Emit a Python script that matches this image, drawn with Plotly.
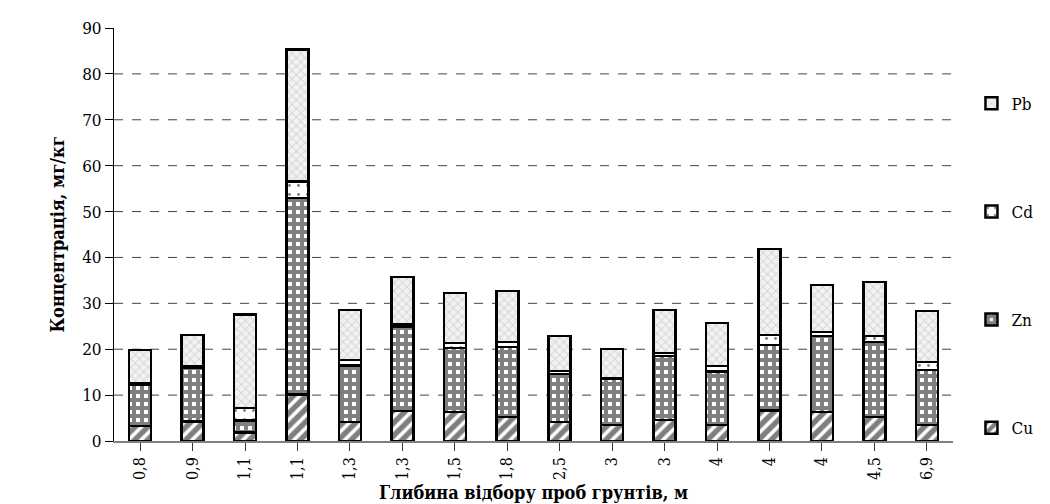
import plotly.graph_objects as go

depths = ["0,8", "0,9", "1,1", "1,1", "1,3", "1,3", "1,5", "1,8", "2,5", "3", "3", "4", "4", "4", "4,5", "6,9"]
cu = [3.3, 4.3, 1.9, 10.1, 4.1, 6.5, 6.3, 5.2, 4.1, 3.5, 4.6, 3.5, 6.7, 6.3, 5.2, 3.5]
zn = [8.9, 11.7, 2.6, 42.9, 12.3, 18.5, 14.0, 15.3, 10.5, 10.0, 13.9, 11.7, 14.2, 16.6, 16.4, 12.0]
cd = [0.4, 0.3, 2.7, 3.6, 1.2, 0.5, 1.1, 1.1, 0.7, 0.2, 0.7, 1.1, 2.2, 0.8, 1.3, 1.7]
pb = [7.2, 6.8, 20.4, 28.7, 11.0, 10.2, 10.8, 11.1, 7.6, 6.3, 9.3, 9.4, 18.7, 10.3, 11.7, 11.1]
y_ticks = [0, 10, 20, 30, 40, 50, 60, 70, 80, 90]
grid_values = [10, 20, 30, 40, 50, 60, 70, 80]

x_idx = list(range(len(depths)))
FONT = "DejaVu Serif Condensed, DejaVu Serif"

styles = {
    "Cu": dict(shape="/", fgcolor="black", bgcolor="white", size=9, solidity=0.6),
    "Zn": dict(shape="+", fgcolor="black", bgcolor="white", size=8, solidity=0.75),
    "Cd": dict(shape=".", fgcolor="black", bgcolor="white", size=9, solidity=0.08),
    "Pb": dict(shape="x", fgcolor="#b8b8b8", bgcolor="#f2f2f2", size=6, solidity=0.3),
}
ranks = {"Pb": 1, "Cd": 2, "Zn": 3, "Cu": 4}

fig = go.Figure()
for name, vals in [("Cu", cu), ("Zn", zn), ("Cd", cd), ("Pb", pb)]:
    fig.add_trace(go.Bar(
        x=x_idx, y=vals, name=name, legendgroup=name, legendrank=ranks[name],
        marker=dict(color="white", line=dict(color="black", width=2.5),
                    pattern=styles[name]),
    ))

for g in grid_values:
    fig.add_shape(type="line", xref="paper", yref="y", x0=0, x1=1, y0=g, y1=g,
                  line=dict(color="#444444", width=1, dash="dash"), layer="below")

fig.update_layout(
    width=1050, height=504,
    barmode="stack", bargap=0.58,
    paper_bgcolor="white", plot_bgcolor="white",
    margin=dict(l=106, r=105, t=20, b=71, autoexpand=False),
    font=dict(family=FONT, color="black", size=15),
    legend=dict(x=1.022, y=0.86, xanchor="left", yanchor="top",
                traceorder="grouped", tracegroupgap=83,
                font=dict(family=FONT, size=17), bgcolor="rgba(0,0,0,0)"),
    showlegend=True,
)
fig.update_xaxes(
    tickmode="array", tickvals=x_idx, ticktext=depths, tickangle=-90,
    range=[-0.5, len(depths) - 0.5],
    showline=True, linecolor="#808080", linewidth=1.5,
    ticks="outside", tickson="boundaries", ticklen=8, tickcolor="#333",
    tickfont=dict(family=FONT, size=16),
    showgrid=False, zeroline=False,
    title=dict(text="<b>Глибина відбору проб грунтів, м</b>", standoff=7,
               font=dict(family=FONT, size=18)),
)
fig.update_yaxes(
    range=[0, 90], tickvals=y_ticks,
    showline=True, linecolor="black", linewidth=1,
    ticks="outside", ticklen=8, tickcolor="black",
    tickfont=dict(family=FONT, size=17),
    showgrid=False, zeroline=False,
    title=dict(text="<b>Концентрація, мг/кг</b>", standoff=12,
               font=dict(family=FONT, size=18)),
)

fig.write_html("out.html")
